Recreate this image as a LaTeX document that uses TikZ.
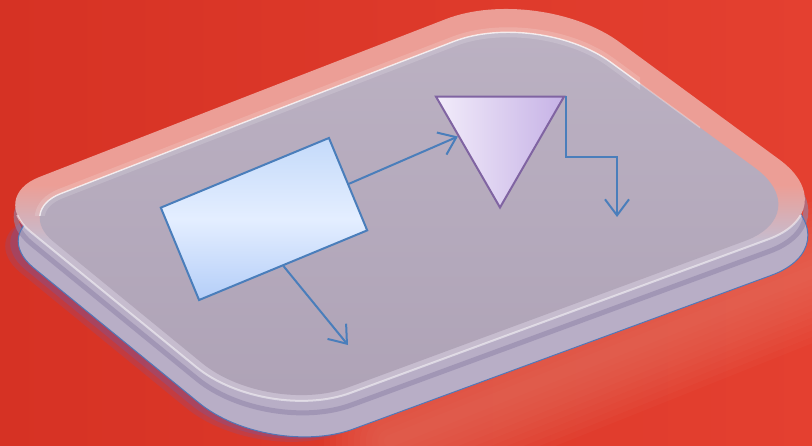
\documentclass[tikz,border=0pt]{standalone}
\usepackage{tikz}
\usetikzlibrary{shapes.geometric,arrows.meta,calc}

\definecolor{fundo}{RGB}{214,50,36}
\definecolor{fundoclaro}{RGB}{228,64,48}
\definecolor{coral}{RGB}{238,124,108}
\definecolor{rosa}{RGB}{236,158,150}
\definecolor{aba}{RGB}{198,188,206}
\definecolor{faceclara}{RGB}{188,178,195}
\definecolor{faceescura}{RGB}{174,162,182}
\definecolor{lateral}{RGB}{184,174,198}
\definecolor{sulco}{RGB}{146,134,170}
\definecolor{sombra}{RGB}{110,90,170}
\definecolor{azul}{RGB}{74,126,187}
\definecolor{roxo}{RGB}{128,100,162}

% contornos da bandeja (em pixels)
\def\tampa{(268,88) [rounded corners=100pt] -- (539,-17) [rounded corners=85pt] -- (848,210) [rounded corners=90pt] -- (266,424) [rounded corners=55pt] -- (-12,197) -- cycle}
\def\miolo{(281,108) [rounded corners=90pt] -- (538,9) [rounded corners=78pt] -- (818,214) [rounded corners=85pt] -- (268,417) [rounded corners=48pt] -- (16,211) -- cycle}

\begin{document}
\begin{tikzpicture}[x=1pt,y=-1pt,
  bloco/.style={rectangle, draw=azul, line width=2pt, inner sep=0pt,
    minimum width=182pt, minimum height=100pt,
    top color={rgb,255:red,196;green,218;blue,250},
    bottom color={rgb,255:red,180;green,206;blue,248},
    middle color={rgb,255:red,228;green,238;blue,255}},
  triang/.style={regular polygon, regular polygon sides=3, shape border rotate=180,
    minimum size=148pt, inner sep=0pt, draw=roxo, line width=2pt,
    left color={rgb,255:red,242;green,236;blue,250},
    right color={rgb,255:red,198;green,178;blue,230}},
  seta/.style={draw=azul, line width=2pt, -{Straight Barb[length=16pt,width=24pt]}}]
\useasboundingbox (0,0) rectangle (812,445);
\clip (0,0) rectangle (812,445);
% Fundo
\shade[left color=fundo, right color=fundoclaro] (0,0) rectangle (812,445);
\foreach \w in {12,24,...,132}
  \draw[coral, line width=\w pt, opacity=.07, line cap=round] (390,441) -- (830,265);
% Sombra e lateral
\fill[sombra, opacity=.2, shift={(-10,41)}] \tampa;
\fill[sombra, opacity=.3, shift={(-5,38)}] \tampa;
\fill[lateral, shift={(3,36)}] \tampa;
\draw[sulco, line width=5pt, opacity=.6, shift={(1,12)}] \tampa;
\draw[azul!80!sombra, line width=1pt, shift={(3,36)}] \tampa;
% Tampo
\begin{scope}
  \clip \tampa;
  \fill[rosa] (-20,-30) rectangle (860,185);
  \shade[top color=rosa, bottom color=aba] (-20,185) rectangle (860,240);
  \fill[aba] (-20,240) rectangle (860,460);
\end{scope}
\shade[top color=faceclara, bottom color=faceescura] \miolo;
\begin{scope} % brilhos
  \clip (0,0) rectangle (640,215);
  \draw[white, opacity=.15, line width=10pt] \miolo;
  \draw[white, opacity=.75, line width=1.4pt] \miolo;
\end{scope}
\begin{scope}
  \clip (640,0) rectangle (700,215);
  \draw[white, opacity=.3, line width=1.4pt] \miolo;
\end{scope}
\begin{scope}
  \clip (0,215) rectangle (812,445);
  \draw[white, opacity=.5, line width=2pt] \tampa;
\end{scope}
% Diagrama
\node[bloco, rotate=22.5] (ret) at (264,219) {};
\node[triang] (tri) at (500,133.5) {};
\coordinate (alvo) at ($(tri.corner 3)!.36!(tri.corner 1)$);
\coordinate (fim1) at (348,345);
\coordinate (fim2) at (617,217);
\draw[seta] (ret.east) -- (alvo);
\draw[seta] (ret.south) -- (fim1);
\draw[seta] (tri.corner 2) -- ++(0,61) -| (fim2);
\end{tikzpicture}
\end{document}
